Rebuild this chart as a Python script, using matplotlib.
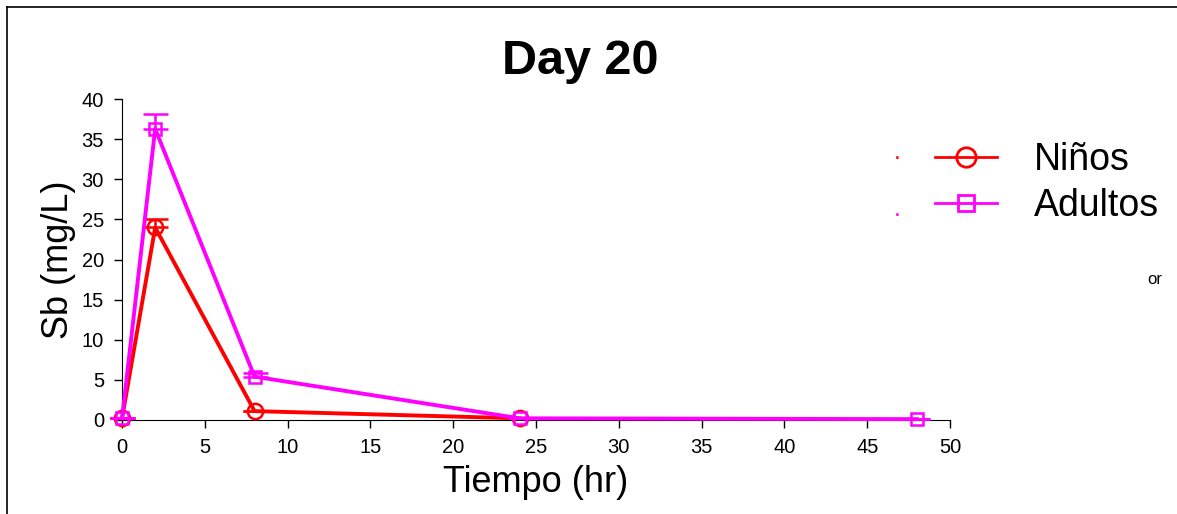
import matplotlib.pyplot as plt
from matplotlib.lines import Line2D

plt.rcParams['font.family'] = ['Liberation Sans', 'DejaVu Sans']

# data
t_ninos = [0, 2, 8, 24]
sb_ninos = [0.2, 24.0, 1.1, 0.2]
err_ninos = [0, 1.1, 0, 0]

t_adultos = [0, 2, 8, 24, 48]
sb_adultos = [0.2, 36.3, 5.4, 0.2, 0.1]
err_adultos = [0, 1.9, 0.5, 0, 0]

x_ticks = [0, 5, 10, 15, 20, 25, 30, 35, 40, 45, 50]
y_ticks = [0, 5, 10, 15, 20, 25, 30, 35, 40]

fig = plt.figure(figsize=(11.77, 5.14), dpi=100)
ax = fig.add_axes([0.1037, 0.183, 0.7035, 0.624])

zeros_n = [0] * len(err_ninos)
zeros_a = [0] * len(err_adultos)
ax.errorbar(t_ninos, sb_ninos, yerr=[zeros_n, err_ninos], color='#ff0000', lw=2.8,
            marker='o', ms=11, mfc='none', mew=1.8, capsize=9, capthick=1.8,
            elinewidth=1.8, label='Niños', clip_on=False, zorder=3)
ax.errorbar(t_adultos, sb_adultos, yerr=[zeros_a, err_adultos], color='#ff00ff', lw=2.8,
            marker='s', ms=8, mfc='none', mew=1.8, capsize=9, capthick=1.8,
            elinewidth=1.8, label='Adultos', clip_on=False, zorder=4)

ax.set_xlim(0, 50)
ax.set_ylim(0, 40)
ax.set_xticks(x_ticks)
ax.set_yticks(y_ticks)
ax.tick_params(direction='out', length=6, width=1, labelsize=14.5, pad=7)
for s in ['top', 'right']:
    ax.spines[s].set_visible(False)
ax.spines['left'].set_position(('data', 0))
ax.spines['bottom'].set_position(('data', 0))

ax.set_xlabel('Tiempo (hr)', fontsize=26, labelpad=6)
ax.set_ylabel('Sb (mg/L)', fontsize=26, labelpad=4)
fig.text(0.493, 0.88, 'Day 20', fontsize=35, fontweight='bold', ha='center', va='center')

handles = [
    Line2D([], [], color='#ff0000', lw=2, marker='o', ms=14, mfc='none', mew=2),
    Line2D([], [], color='#ff00ff', lw=2, marker='s', ms=11, mfc='none', mew=2),
]
fig.legend(handles, ['Niños', 'Adultos'], loc='center left', bbox_to_anchor=(0.772, 0.644),
           frameon=False, fontsize=27, handlelength=1.65, handletextpad=1.0,
           labelspacing=0.27, borderpad=0.2)
fig.text(0.759, 0.69, '.', color='#ff0000', fontsize=18)
fig.text(0.759, 0.58, '.', color='#ff00ff', fontsize=18)
fig.text(0.975, 0.448, 'or', fontsize=12)

# frame lines at top and left of the image
fig.add_artist(Line2D([0.006, 1], [0.986, 0.986], color='black', lw=1.2))
fig.add_artist(Line2D([0.006, 0.006], [0, 0.986], color='black', lw=1.2))

fig.savefig('out.png', dpi=100)
